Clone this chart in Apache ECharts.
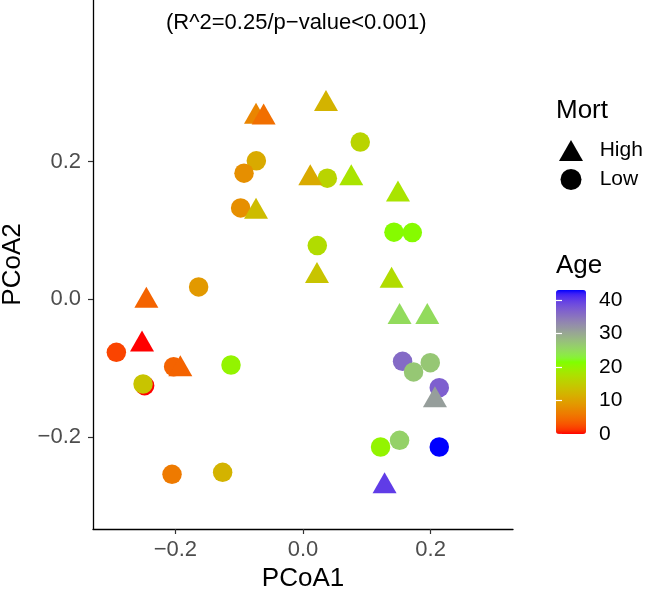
<!DOCTYPE html>
<html>
<head>
<meta charset="utf-8">
<script src="https://cdn.jsdelivr.net/npm/echarts@6/dist/echarts.min.js"></script>
<style>
  html, body { margin: 0; padding: 0; background: #fff; }
  #chart { width: 646px; height: 592px; }
</style>
</head>
<body>
<div id="chart"></div>
<script>
// Mort = High (triangles)
const highX = [-0.0736, -0.0617, 0.0360, 0.0114, -0.0736, 0.0756, 0.1488, 0.0219,
  -0.2454, -0.2522, -0.1922, 0.1388, 0.1513, 0.1947, 0.2067, 0.1278];
const highY = [0.2705, 0.2691, 0.2889, 0.1808, 0.1324, 0.1808, 0.1575, 0.0387,
  0.0029, -0.0607, -0.0966, 0.0320, -0.0207, -0.0207, -0.1417, -0.2668];
const highAge = [7, 5, 12, 11, 13, 18, 18, 14, 4, 0, 4, 17, 25, 25, 31, 40];

// Mort = Low (circles)
const lowX = [-0.0731, -0.0924, 0.0381, -0.0977, 0.0224, -0.1635, -0.2924, -0.2027,
  -0.1128, -0.2481, -0.2506, -0.2052, -0.1259, 0.0897, 0.1425, 0.1712, 0.1560,
  0.1732, 0.1994, 0.2135, 0.1215, 0.1513, 0.2135];
const lowY = [0.2012, 0.1833, 0.1760, 0.1328, 0.0780, 0.0179, -0.0771, -0.0980,
  -0.0956, -0.1257, -0.1232, -0.2545, -0.2516, 0.2284, 0.0975, 0.0969, -0.0902,
  -0.1057, -0.0922, -0.1286, -0.2148, -0.2051, -0.2148];
const lowAge = [11, 8, 16, 8, 17, 9, 2, 4, 20, 0, 14, 6, 12, 16, 21, 21, 36,
  27, 27, 37, 20, 26, 43];

const axisTicks = [-0.2, 0, 0.2];
const ageTicks = [0, 10, 20, 30, 40];
const ageMin = 0;
const ageMax = 43;
const gradientEnds = ["#FF0000", "#7FFF00", "#0000FF"];

const FONT = "Liberation Sans, Arial, Helvetica, sans-serif";

// colour ramp interpolated in Lab space (like ggplot's gradientn)
function toLin(c) { c /= 255; return c <= 0.04045 ? c / 12.92 : Math.pow((c + 0.055) / 1.055, 2.4); }
function toSrgb(c) {
  c = c <= 0.0031308 ? 12.92 * c : 1.055 * Math.pow(c, 1 / 2.4) - 0.055;
  return Math.round(Math.max(0, Math.min(1, c)) * 255);
}
function hexToLab(hex) {
  const r = toLin(parseInt(hex.slice(1, 3), 16));
  const g = toLin(parseInt(hex.slice(3, 5), 16));
  const b = toLin(parseInt(hex.slice(5, 7), 16));
  const X = (0.4124 * r + 0.3576 * g + 0.1805 * b) / 0.95047;
  const Y = 0.2126 * r + 0.7152 * g + 0.0722 * b;
  const Z = (0.0193 * r + 0.1192 * g + 0.9505 * b) / 1.08883;
  const f = t => t > 0.008856 ? Math.cbrt(t) : 7.787 * t + 16 / 116;
  const fx = f(X), fy = f(Y), fz = f(Z);
  return [116 * fy - 16, 500 * (fx - fy), 200 * (fy - fz)];
}
function labToHex(lab) {
  const fy = (lab[0] + 16) / 116, fx = fy + lab[1] / 500, fz = fy - lab[2] / 200;
  const inv = t => t * t * t > 0.008856 ? t * t * t : (t - 16 / 116) / 7.787;
  const X = 0.95047 * inv(fx), Y = inv(fy), Z = 1.08883 * inv(fz);
  const r = 3.2406 * X - 1.5372 * Y - 0.4986 * Z;
  const g = -0.9689 * X + 1.8758 * Y + 0.0415 * Z;
  const b = 0.0557 * X - 0.2040 * Y + 1.0570 * Z;
  return "#" + [r, g, b].map(v => toSrgb(v).toString(16).padStart(2, "0")).join("");
}
function labRamp(ends, n) {
  const labs = ends.map(hexToLab);
  const out = [];
  for (let i = 0; i < n; i++) {
    const p = i / (n - 1) * (labs.length - 1);
    const k = Math.min(Math.floor(p), labs.length - 2);
    const t = p - k;
    out.push(labToHex(labs[k].map((v, j) => v + (labs[k + 1][j] - v) * t)));
  }
  return out;
}

const fmt = v => (v < 0 ? "\u2212" : "") + Math.abs(v).toFixed(1);

const chart = echarts.init(document.getElementById("chart"), null, { renderer: "canvas" });

const option = {
  animation: false,
  backgroundColor: "#fff",
  textStyle: { fontFamily: FONT },
  title: [
    {
      text: "(R^2=0.25/p\u2212value<0.001)",
      left: 166, top: 12, padding: 0,
      textStyle: { fontFamily: FONT, fontSize: 22, fontWeight: "normal", color: "#000" }
    },
    {
      text: "Mort", left: 556, top: 98, padding: 0,
      textStyle: { fontFamily: FONT, fontSize: 26, fontWeight: "normal", color: "#000" }
    },
    {
      text: "Age", left: 556, top: 253, padding: 0,
      textStyle: { fontFamily: FONT, fontSize: 26, fontWeight: "normal", color: "#000" }
    }
  ],
  legend: {
    orient: "vertical",
    left: 559, top: 140, padding: 0,
    itemWidth: 24, itemHeight: 21, itemGap: 8,
    data: [{ name: "High", icon: "triangle" }, { name: "Low", icon: "circle" }],
    formatter: name => "  " + name,
    itemStyle: { color: "#000" },
    textStyle: { fontFamily: FONT, fontSize: 21, color: "#000" },
    selectedMode: false
  },
  visualMap: {
    type: "continuous",
    min: ageMin, max: ageMax,
    dimension: 2,
    seriesIndex: [0, 1],
    left: 556, top: 290, padding: 0,
    itemWidth: 30, itemHeight: 144,
    calculable: false,
    text: null,
    showLabel: false,
    inRange: { color: labRamp(gradientEnds, 41) }
  },
  grid: [
    { left: 93, right: 133, top: 0, bottom: 63, outerBoundsMode: "none" },
    { left: 556, top: 290, width: 30, height: 144, outerBoundsMode: "none" }
  ],
  xAxis: [
    {
      type: "value", gridIndex: 0,
      min: -0.329, max: 0.329,
      name: "PCoA1", nameLocation: "middle", nameGap: 37,
      nameTextStyle: { fontFamily: FONT, fontSize: 26, color: "#000" },
      axisLine: { onZero: false, lineStyle: { color: "#000", width: 1.3 } },
      axisTick: { length: 5, lineStyle: { color: "#333", width: 1.2 }, customValues: axisTicks },
      axisLabel: { customValues: axisTicks, formatter: fmt, margin: 10, fontSize: 22, color: "#4D4D4D", fontFamily: FONT },
      splitLine: { show: false }
    },
    { type: "value", gridIndex: 1, min: 0, max: 1, show: false }
  ],
  yAxis: [
    {
      type: "value", gridIndex: 0,
      min: -0.334, max: 0.435,
      name: "PCoA2", nameLocation: "middle", nameGap: 67,
      nameTextStyle: { fontFamily: FONT, fontSize: 26, color: "#000" },
      axisLine: { onZero: false, lineStyle: { color: "#000", width: 1.3 } },
      axisTick: { length: 5, lineStyle: { color: "#333", width: 1.2 }, customValues: axisTicks },
      axisLabel: { customValues: axisTicks, formatter: fmt, margin: 12, fontSize: 22, color: "#4D4D4D", fontFamily: FONT },
      splitLine: { show: false }
    },
    {
      type: "value", gridIndex: 1, position: "right", z: 10,
      min: ageMin, max: ageMax,
      axisLine: { show: false },
      axisTick: { inside: true, length: 6, lineStyle: { color: "#fff", width: 1.2 }, customValues: ageTicks },
      axisLabel: { customValues: ageTicks, margin: 13, fontSize: 21, color: "#000", fontFamily: FONT },
      splitLine: { show: false }
    },
    {
      type: "value", gridIndex: 1, position: "left", z: 10,
      min: ageMin, max: ageMax,
      axisLine: { show: false },
      axisTick: { inside: true, length: 6, lineStyle: { color: "#fff", width: 1.2 }, customValues: ageTicks },
      axisLabel: { show: false },
      splitLine: { show: false }
    }
  ],
  series: [
    {
      name: "Low", type: "scatter",
      xAxisIndex: 0, yAxisIndex: 0,
      symbol: "circle", symbolSize: 19.5,
      itemStyle: { opacity: 1 },
      emphasis: { disabled: true },
      data: lowX.map((x, i) => [x, lowY[i], lowAge[i]])
    },
    {
      name: "High", type: "scatter",
      xAxisIndex: 0, yAxisIndex: 0,
      symbol: "triangle", symbolSize: [24, 21],
      itemStyle: { opacity: 1 },
      emphasis: { disabled: true },
      data: highX.map((x, i) => [x, highY[i], highAge[i]])
    }
  ]
};

chart.setOption(option);
</script>
</body>
</html>
